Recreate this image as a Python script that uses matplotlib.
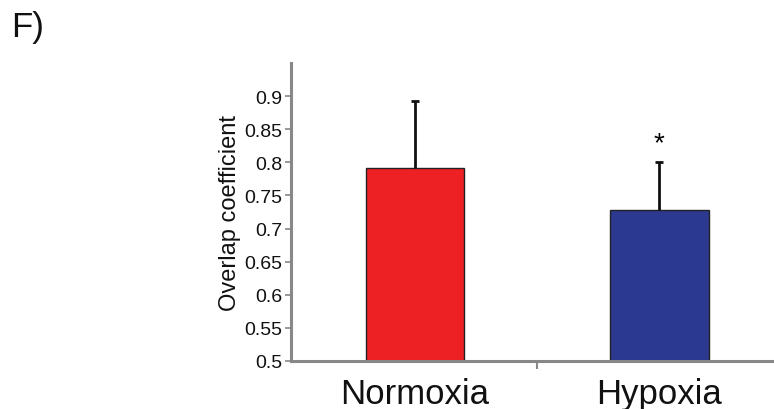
import matplotlib
matplotlib.use("Agg")
import matplotlib.pyplot as plt

plt.rcParams['font.family'] = ['Liberation Sans', 'DejaVu Sans']

# data
conditions = ['Normoxia', 'Hypoxia']
overlap = [0.791, 0.728]
overlap_err = [0.102, 0.072]
bar_colors = ['#ED2024', '#2B3990']
yticks = [0.5, 0.55, 0.6, 0.65, 0.7, 0.75, 0.8, 0.85, 0.9]
ytick_labels = ['0.5', '0.55', '0.6', '0.65', '0.7', '0.75', '0.8', '0.85', '0.9']

W, H = 774, 410
fig = plt.figure(figsize=(W / 100, H / 100), dpi=100)
ax = fig.add_axes([291 / W, 1 - 362 / H, (W - 291) / W, (362 - 64) / H])

x = list(range(len(conditions)))
ax.bar(x, overlap, width=0.404, color=bar_colors, edgecolor='#222222', linewidth=1.0, zorder=2)
eb = ax.errorbar(x, overlap, yerr=[[0, 0], overlap_err], fmt='none', ecolor='#111111',
                 elinewidth=2.0, capsize=3, capthick=2.0, zorder=3)
# only the upper cap is drawn in the original
eb[1][0].set_visible(False)
# significance mark above hypoxia
ax.text(x[1], overlap[1] + overlap_err[1] + 0.0095, '*', ha='center', va='bottom', fontsize=20)

ax.set_xlim(-0.508, 1.47)
ax.set_ylim(0.5, 0.95)
ax.set_yticks(yticks)
ax.set_yticklabels(ytick_labels, fontsize=14, color='#111111')
ax.set_xticks([0.5])
ax.set_xticklabels([''])
for xi, name in zip(x, conditions):
    ax.text(xi, 0.5 - 0.0245, name, ha='center', va='top', fontsize=25, color='#111111')
ax.set_ylabel('Overlap coefficient', fontsize=17, color='#111111', labelpad=3)

for side in ['top', 'right']:
    ax.spines[side].set_visible(False)
for side in ['left', 'bottom']:
    ax.spines[side].set_color('#888888')
    ax.spines[side].set_linewidth(2.2)
ax.tick_params(axis='y', colors='#888888', labelcolor='#111111', length=4, width=1.2, pad=2)
ax.tick_params(axis='x', colors='#888888', length=6, width=1.5)

fig.text(11 / W, 1 - 27 / H, 'F)', fontsize=25, ha='left', va='center', color='#111111')

fig.savefig('out.png', dpi=100)
